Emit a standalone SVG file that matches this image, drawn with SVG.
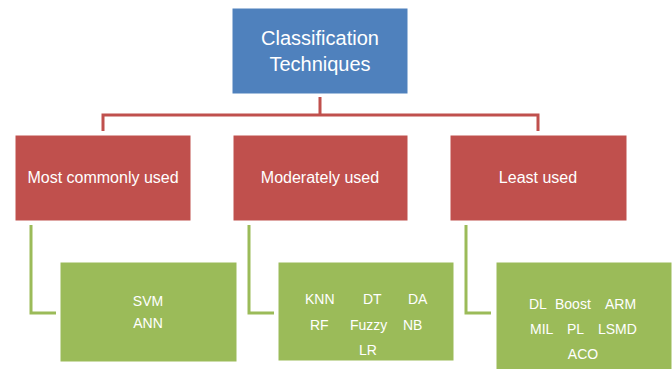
<svg xmlns="http://www.w3.org/2000/svg" width="672" height="369" viewBox="0 0 672 369">
<style>
text{font-family:"Liberation Sans",Arial,sans-serif;fill:#fff}
.t1{font-size:20px;text-anchor:middle}
.t2{font-size:16px;text-anchor:middle}
.t3{font-size:14px}
.red{fill:#C0504D;stroke:#fff;stroke-width:1}
.green{fill:#9BBB59;stroke:#fff;stroke-width:1}
.rc{fill:none;stroke:#C0504D;stroke-width:3}
.gc{fill:none;stroke:#9BBB59;stroke-width:3}
</style>
<rect width="672" height="369" fill="#fff"/>
<g id="connectors">
<path class="rc" d="M320 97V115M103 131V115H538V131"/>
<path class="gc" d="M31 225V313H56"/>
<path class="gc" d="M249 225V313H274"/>
<path class="gc" d="M466 225V313H491"/>
</g>
<g id="root">
<rect x="232" y="8" width="176" height="86" fill="#4F81BD" stroke="#fff"/>
<text class="t1" x="320" y="45">Classification</text>
<text class="t1" x="320" y="71">Techniques</text>
</g>
<g id="most">
<rect class="red" x="15" y="135" width="176" height="86"/>
<text class="t2" x="103" y="183">Most commonly used</text>
</g>
<g id="moderate">
<rect class="red" x="233" y="135" width="175" height="86"/>
<text class="t2" x="320" y="183">Moderately used</text>
</g>
<g id="least">
<rect class="red" x="450" y="135" width="177" height="86"/>
<text class="t2" x="538" y="183">Least used</text>
</g>
<g id="g1">
<rect class="green" x="60" y="262" width="177" height="100"/>
<text class="t3" x="148" y="306" text-anchor="middle">SVM</text>
<text class="t3" x="148" y="328" text-anchor="middle">ANN</text>
</g>
<g id="g2">
<rect class="green" x="278" y="262" width="176" height="99"/>
<text class="t3" x="305" y="304">KNN</text>
<text class="t3" x="363" y="304">DT</text>
<text class="t3" x="408" y="304">DA</text>
<text class="t3" x="310" y="330">RF</text>
<text class="t3" x="350" y="330">Fuzzy</text>
<text class="t3" x="403" y="330">NB</text>
<text class="t3" x="359" y="355">LR</text>
</g>
<g id="g3">
<rect class="green" x="496" y="262" width="176" height="110"/>
<text class="t3" x="529" y="309">DL</text>
<text class="t3" x="555" y="309">Boost</text>
<text class="t3" x="605" y="309">ARM</text>
<text class="t3" x="530" y="334">MIL</text>
<text class="t3" x="567" y="334">PL</text>
<text class="t3" x="598" y="334">LSMD</text>
<text class="t3" x="583" y="359" text-anchor="middle">ACO</text>
</g>
</svg>
